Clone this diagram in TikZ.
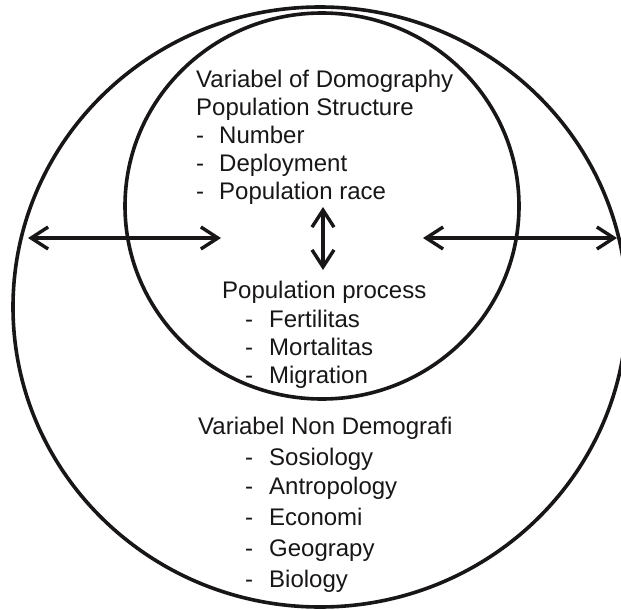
\documentclass[tikz,border=0pt]{standalone}
\usepackage{fontspec}
\setmainfont{Liberation Sans}
\usetikzlibrary{arrows.meta,shapes.geometric}
\definecolor{ink}{RGB}{25,22,23}
\begin{document}
\begin{tikzpicture}[x=1pt,y=-1pt,
  ring/.style={draw=ink,line width=3.6pt,ellipse,inner sep=0pt},
  txt/.style={anchor=base west,inner sep=0pt,text=ink,font=\fontsize{24}{29}\selectfont},
  dbl/.style={draw=ink,line width=3.4pt,{Straight Barb[length=17pt,width=22pt,line width=3.4pt]}-{Straight Barb[length=17pt,width=22pt,line width=3.4pt]}}]
\useasboundingbox (0,0) rectangle (621,610);
\clip (0,0) rectangle (621,610);
\fill[white] (0,0) rectangle (621,610);
\node[ring,minimum width=614pt,minimum height=600pt] (outer) at (320,307) {};
\node[ring,minimum width=394pt,minimum height=386pt] (inner) at (322,206) {};
% block 1
\node[txt] (t1) at (196,88) {Variabel of Domography};
\node[txt] (t2) at (196,115) {Population Structure};
\node[txt] (t3) at (196,143) {\makebox[23pt][l]{-}Number};
\node[txt] (t4) at (196,171) {\makebox[23pt][l]{-}Deployment};
\node[txt] (t5) at (196,199) {\makebox[23pt][l]{-}Population race};
% block 2
\node[txt] (p1) at (222,298) {Population process};
\node[txt] (p2) at (245,327) {\makebox[24pt][l]{-}Fertilitas};
\node[txt] (p3) at (245,355) {\makebox[24pt][l]{-}Mortalitas};
\node[txt] (p4) at (245,383) {\makebox[24pt][l]{-}Migration};
% block 3
\node[txt] (n1) at (198,434) {Variabel Non Demografi};
\node[txt] (n2) at (245,465) {\makebox[24pt][l]{-}Sosiology};
\node[txt] (n3) at (245,494) {\makebox[24pt][l]{-}Antropology};
\node[txt] (n4) at (245,525) {\makebox[24pt][l]{-}Economi};
\node[txt] (n5) at (245,556) {\makebox[24pt][l]{-}Geograpy};
\node[txt] (n6) at (245,587) {\makebox[24pt][l]{-}Biology};
% arrows
\coordinate (la) at (28,238);
\coordinate (lb) at (221,238);
\coordinate (ra) at (423,238);
\coordinate (rb) at (617,238);
\coordinate (va) at (323,207);
\coordinate (vb) at (323,270);
\draw[dbl] (la) -- (lb);
\draw[dbl] (ra) -- (rb);
\draw[dbl] (va) -- (vb);
\end{tikzpicture}
\end{document}
